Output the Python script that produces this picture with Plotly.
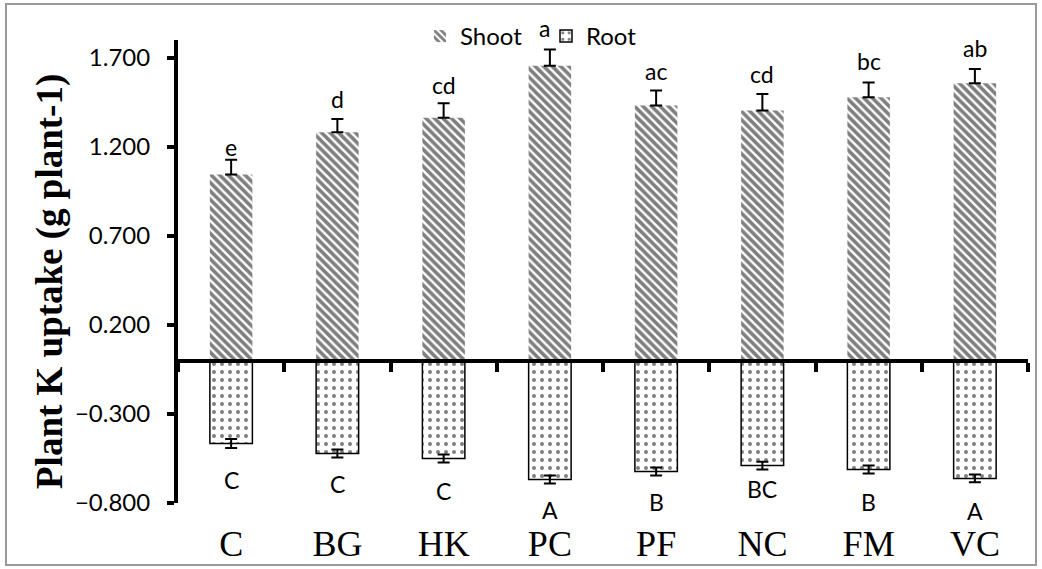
import plotly.graph_objects as go

categories = ["C", "BG", "HK", "PC", "PF", "NC", "FM", "VC"]
shoot = [1.045, 1.282, 1.363, 1.656, 1.432, 1.404, 1.478, 1.557]
shoot_err = [0.082, 0.075, 0.082, 0.09, 0.084, 0.093, 0.084, 0.08]
root = [-0.466, -0.522, -0.550, -0.668, -0.623, -0.590, -0.612, -0.662]
root_err = [0.025, 0.022, 0.022, 0.022, 0.022, 0.022, 0.022, 0.022]
shoot_letters = ["e", "d", "cd", "a", "ac", "cd", "bc", "ab"]
root_letters = ["C", "C", "C", "A", "B", "BC", "B", "A"]

# label gaps (layout, in axis units) beyond the error bar ends
shoot_pad = [0.07, 0.11, 0.10, 0.12, 0.11, 0.11, 0.12, 0.117]
root_pad = [0.18, 0.15, 0.16, 0.15, 0.15, 0.11, 0.16, 0.16]

FONT = "Lato"
W, H = 1042, 569
ML, MR, MT, MB = 178, 14, 40, 66
PW, PH = W - ML - MR, H - MT - MB
ymin, ymax = -0.8, 1.8


def px_x(p):
    return (p - ML) / PW


def px_y(p):
    return (H - MB - p) / PH


def val_to_paper(v):
    return (v - ymin) / (ymax - ymin)


fig = go.Figure()
fig.add_trace(go.Bar(
    x=categories, y=shoot, name="Shoot", width=0.4,
    marker=dict(color="white", line=dict(width=0),
                pattern=dict(shape="\\", size=6, solidity=0.6, fgcolor="black", bgcolor="white")),
    error_y=dict(type="data", symmetric=False, array=shoot_err, arrayminus=[0] * len(shoot),
                 color="black", thickness=2, width=6),
))
fig.add_trace(go.Bar(
    x=categories, y=root, name="Root", width=0.4,
    marker=dict(color="white", line=dict(width=1.5, color="black"),
                pattern=dict(shape=".", size=8, solidity=0.2, fgcolor="black", bgcolor="white")),
    error_y=dict(type="data", array=root_err, color="black", thickness=2, width=6),
))
# invisible trace for the zero-line axis with boundary ticks
fig.add_trace(go.Scatter(x=categories, y=[0] * len(categories), xaxis="x2",
                         mode="markers", marker=dict(opacity=0), showlegend=False, hoverinfo="skip"))

for i, c in enumerate(categories):
    fig.add_annotation(x=c, xref="x", yref="paper",
                       y=val_to_paper(shoot[i] + shoot_err[i] + shoot_pad[i]), text=shoot_letters[i],
                       showarrow=False, yanchor="middle", xshift=-5 if i == 3 else 0,
                       font=dict(family=FONT, size=23, color="black"))
    fig.add_annotation(x=c, xref="x", yref="paper",
                       y=val_to_paper(root[i] - root_err[i] - root_pad[i]), text=root_letters[i],
                       showarrow=False, yanchor="middle", font=dict(family=FONT, size=23, color="black"))

# y-axis title as a rotated annotation (placed like the reference)
fig.add_annotation(x=px_x(50), y=px_y(282), xref="paper", yref="paper",
                   text="<b>Plant K uptake (g plant-1)</b>", textangle=-90, showarrow=False,
                   xanchor="center", yanchor="middle",
                   font=dict(family="Liberation Serif", size=37, color="black"))

fig.add_shape(type="rect", xref="paper", yref="paper",
              x0=px_x(6), x1=px_x(1036), y0=px_y(565), y1=px_y(4),
              line=dict(color="#9a9a9a", width=2), fillcolor="rgba(0,0,0,0)", layer="below")

zero_pos = val_to_paper(0)

fig.update_layout(
    width=W, height=H,
    margin=dict(l=ML, r=MR, t=MT, b=MB, autoexpand=False),
    paper_bgcolor="white", plot_bgcolor="white",
    barmode="overlay",
    showlegend=True,
    legend=dict(orientation="h", x=px_x(420), y=px_y(14), xanchor="left", yanchor="top",
                font=dict(family=FONT, size=24, color="black"), bgcolor="rgba(0,0,0,0)",
                entrywidth=81, tracegroupgap=0),
    xaxis=dict(type="category", range=[-0.5, 7.5], showline=False, ticks="",
               showgrid=False, zeroline=False,
               tickfont=dict(family="Liberation Serif", size=36, color="black"),
               ticklabelstandoff=16),
    xaxis2=dict(type="category", overlaying="x", anchor="free", position=zero_pos,
                side="bottom", range=[-0.5, 7.5], showline=True, linecolor="black", linewidth=4,
                ticks="outside", tickson="boundaries", ticklen=9, tickwidth=4, tickcolor="black",
                showticklabels=False, showgrid=False, zeroline=False),
    yaxis=dict(range=[ymin, ymax], tick0=0.2, dtick=0.5, tickformat=".3f",
               showline=True, linecolor="black", linewidth=4,
               ticks="outside", ticklen=7, tickwidth=4, tickcolor="black",
               showgrid=False, zeroline=False,
               tickfont=dict(family=FONT, size=24, color="black"),
               ticklabelstandoff=12),
)

fig.write_html("out.html", config={"displayModeBar": False},
               post_script="document.body.style.margin='0';")
